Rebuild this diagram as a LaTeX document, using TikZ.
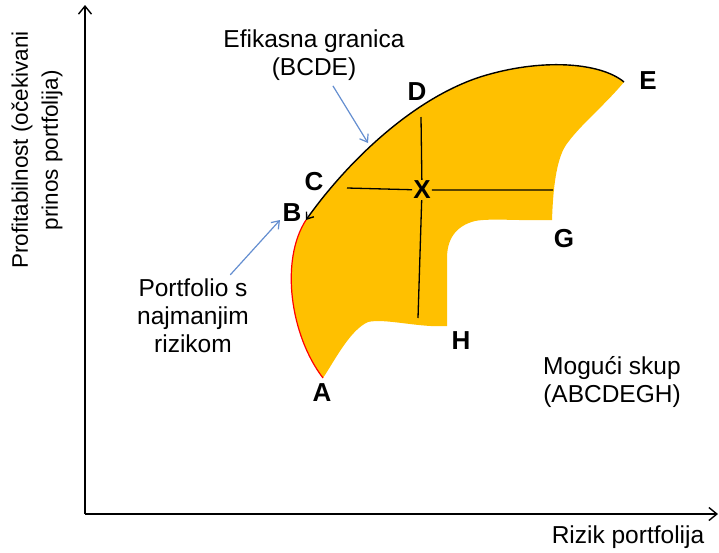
\documentclass[tikz,border=0pt]{standalone}
\usepackage{fontspec}
\setmainfont{Liberation Sans}
\usepackage{tikz}
\usetikzlibrary{arrows.meta, positioning}
\definecolor{setyellow}{RGB}{255,192,0}
\definecolor{arrowblue}{RGB}{100,142,208}
\tikzstyle{letter} = [font=\fontsize{26}{30}\selectfont\bfseries, inner sep=0pt]
\tikzstyle{caption} = [font=\fontsize{24.5}{28}\selectfont, align=center, inner sep=1pt]
\tikzstyle{axis} = [line width=1.4pt, -{Straight Barb[length=8pt, width=13pt]}]
\tikzstyle{bluearrow} = [line width=1.2pt, draw=arrowblue, -{Straight Barb[length=7pt, width=10pt]}]
\tikzstyle{frontier} = [line width=1.4pt, -{Straight Barb[length=6pt, width=9pt]}]
\tikzstyle{minrisk} = [line width=1.2pt, draw=red]
\tikzstyle{crossline} = [line width=1.3pt]

\begin{document}
\begin{tikzpicture}[x=1pt, y=-1pt]
            \useasboundingbox (0,0) rectangle (719,552);
            % axes
            \coordinate (origin) at (85,514);
            \coordinate (ytop) at (85,5);
            \coordinate (xend) at (718,514);
            \draw [axis] (origin) -- (ytop);
            \draw [axis] (origin) -- (xend);
            \node (ylabel) [caption, font=\fontsize{22.5}{30}\selectfont, rotate=90] at (37,150) {Profitabilnost (očekivani\\prinos portfolija)};
            \node (xlabel) [caption, anchor=base] at (628,543) {Rizik portfolija};

            % corners of the set
            \coordinate (ptA) at (323,378);
            \coordinate (ptB) at (306,220);
            \coordinate (ptE) at (624,82);
            \coordinate (ptG) at (552,220);
            \coordinate (ptH) at (447,326);

            \fill [setyellow] (ptB) .. controls (345,165) and (410,100) .. (480,77)
                .. controls (540,58) and (600,62) .. (ptE)
                .. controls (605,105) and (580,125) .. (566,145)
                .. controls (556,160) and (553,190) .. (ptG)
                .. controls (520,221) and (490,218) .. (475,221)
                .. controls (455,226) and (447,240) .. (447,258)
                -- (ptH)
                .. controls (420,328) and (385,318) .. (368,322)
                .. controls (350,330) and (335,360) .. (ptA)
                .. controls (290,335) and (280,260) .. (ptB) -- cycle;

            \draw [minrisk] (ptA) .. controls (290,335) and (280,260) .. (ptB);
            \draw [frontier] (ptE) .. controls (600,62) and (540,58) .. (480,77)
                .. controls (410,100) and (345,165) .. (ptB);

            % the cross at X
            \node (X) [letter, fill=setyellow, inner sep=1pt] at (422,190) {X};
            \coordinate (crossW) at (347,188);
            \coordinate (crossE) at (553,190);
            \coordinate (crossN) at (421,117);
            \coordinate (crossS) at (418,318);
            \draw [crossline] (crossW) -- (X) -- (crossE);
            \draw [crossline] (crossN) -- (X) -- (crossS);

            % letters
            \node (labA) [letter] at (322,393) {A};
            \node (labB) [letter] at (292,213) {B};
            \node (labC) [letter] at (314,182) {C};
            \node (labD) [letter] at (417,92) {D};
            \node (labE) [letter] at (648,81) {E};
            \node (labG) [letter] at (564,239) {G};
            \node (labH) [letter] at (461,341) {H};

            % captions
            \node (efflabel) [caption] at (314,55) {Efikasna granica\\(BCDE)};
            \node (risklabel) [caption] at (193,316) {Portfolio s\\najmanjim\\rizikom};
            \node (setlabel) [caption] at (612,382) {Mogući skup\\(ABCDEGH)};

            \coordinate (frontarrow) at (368,143);
            \coordinate (minarrow) at (280,220);
            \draw [bluearrow, shorten <=5pt] (efflabel) -- (frontarrow);
            \draw [bluearrow, shorten <=4pt] (risklabel) -- (minarrow);

\end{tikzpicture}
\end{document}
